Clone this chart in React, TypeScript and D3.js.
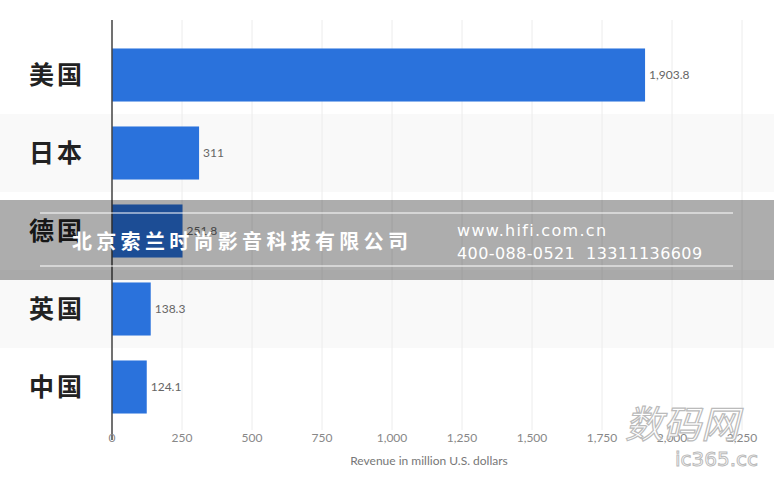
import React from "react";
import * as d3 from "d3";

const categories = ["美国", "日本", "德国", "英国", "中国"];
const values = [1903.8, 311, 251.8, 138.3, 124.1];
const valueLabels = ["1,903.8", "311", "251.8", "138.3", "124.1"];
const ticks = [0, 250, 500, 750, 1000, 1250, 1500, 1750, 2000, 2250];

const W = 774, H = 480;
const x = d3.scaleLinear().domain([0, 2250]).range([112, 742]);
const y = d3.scaleBand().domain(categories).range([36, 426]).paddingInner(0.32).paddingOuter(0.16);
const rowBand = d3.scaleBand().domain(categories).range([36, 426]);
const fmt = d3.format(",");

export default function App() {
  return (
    <svg width={W} height={H} style={{ position: "absolute", left: 0, top: 0, background: "#fff" }}>
      <rect x={0} y={0} width={W} height={H} fill="#fff" />
      {categories.map((c, i) =>
        i % 2 === 1 ? (
          <rect key={c} x={0} y={rowBand(c)!} width={W} height={rowBand.bandwidth()} fill="#f9f9f9" />
        ) : null
      )}
      {ticks.map((t) => (
        <line key={t} x1={x(t)} x2={x(t)} y1={20} y2={430} stroke="#ececec" strokeWidth={1} />
      ))}
      {categories.map((c, i) => (
        <g key={c}>
          <rect x={x(0)} y={y(c)!} width={x(values[i]) - x(0)} height={y.bandwidth()} fill="#2a72dc" />
          <text x={x(values[i]) + 4} y={y(c)! + y.bandwidth() / 2 + 4} fontSize={12} fill="#666"
            fontFamily="Lato, 'Open Sans', sans-serif">{valueLabels[i]}</text>
          <text x={57} y={y(c)! + y.bandwidth() / 2 + 9} fontSize={25} fontWeight={600} textAnchor="middle"
            fill="#222" letterSpacing={3} fontFamily="'Noto Sans CJK SC', sans-serif">{c}</text>
        </g>
      ))}
      <line x1={112} x2={112} y1={20} y2={440} stroke="#444" strokeWidth={1.5} />
      {ticks.map((t) => (
        <text key={t} x={x(t)} y={442} fontSize={12} fill="#888" textAnchor="middle"
          fontFamily="Lato, 'Open Sans', sans-serif">{fmt(t)}</text>
      ))}
      <text x={429} y={465} fontSize={12} fill="#777" textAnchor="middle"
        fontFamily="Lato, 'Open Sans', sans-serif">Revenue in million U.S. dollars</text>

      {/* watermark band */}
      <rect x={0} y={200} width={W} height={80} fill="#000" fillOpacity={0.32} />
      <line x1={40} x2={733} y1={213} y2={213} stroke="#fff" strokeWidth={1} />
      <line x1={40} x2={733} y1={266} y2={266} stroke="#fff" strokeWidth={1} />
      <text x={72} y={249} fontSize={20} fontWeight="bold" fill="#fff" letterSpacing={4.3}
        fontFamily="'Noto Sans CJK SC', sans-serif">北京索兰时尚影音科技有限公司</text>
      <text x={457} y={236} fontSize={16} fill="#fff" letterSpacing={1.3} fontFamily="'DejaVu Sans', sans-serif">www.hifi.com.cn</text>
      <text x={457} y={259} fontSize={16} fill="#fff" letterSpacing={0.4} fontFamily="'DejaVu Sans', sans-serif" xmlSpace="preserve">400-088-0521  13311136609</text>

      {/* corner watermark */}
      <text x={625} y={438} fontSize={38} fill="#fff" stroke="#bbb" strokeWidth={1.2} fontStyle="italic"
        fontFamily="'Noto Sans CJK SC', sans-serif">数码网</text>
      <text x={675} y={466} fontSize={20} fill="#fff" stroke="#bbb" strokeWidth={1}
        fontFamily="'DejaVu Sans', sans-serif">ic365.cc</text>
    </svg>
  );
}
